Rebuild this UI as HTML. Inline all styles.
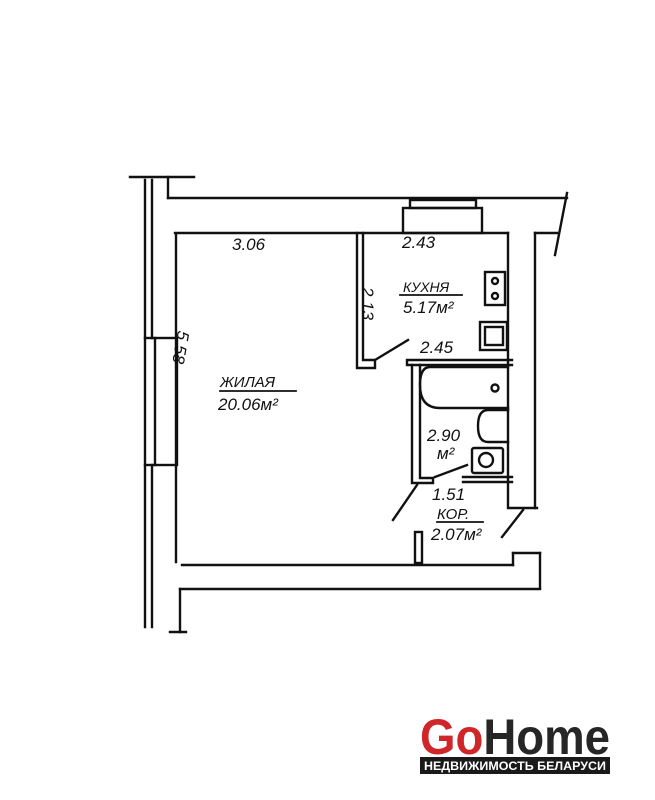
<!DOCTYPE html>
<html><head><meta charset="utf-8"><style>
html,body{margin:0;padding:0;background:#fff;}
svg{display:block;}
text{font-family:"Liberation Sans",sans-serif;font-style:italic;fill:#111;}
text.logo{font-style:normal;}
</style></head><body>
<svg width="655" height="800" viewBox="0 0 655 800" xmlns="http://www.w3.org/2000/svg">
<rect width="655" height="800" fill="#fff"/>
<g stroke="#111" stroke-width="2.4" fill="none" stroke-linecap="square">
<line x1="145" y1="180" x2="145" y2="627"/>
<line x1="152" y1="180" x2="152" y2="338"/>
<line x1="152" y1="465" x2="152" y2="627"/>
<line x1="130" y1="177" x2="194" y2="177"/>
<line x1="168" y1="177" x2="168" y2="198"/>
<line x1="168" y1="198" x2="567" y2="198"/>
<rect x="155" y="338" width="22" height="127"/>
<line x1="145" y1="338" x2="155" y2="338"/>
<line x1="145" y1="465" x2="155" y2="465"/>
<line x1="176" y1="235" x2="176" y2="562"/>
<line x1="175" y1="233" x2="508" y2="233"/>
<rect x="403" y="208" width="79" height="25"/>
<rect x="410" y="200" width="66" height="8"/>
<line x1="567" y1="193" x2="555" y2="255"/>
<line x1="508" y1="233" x2="508" y2="508"/>
<line x1="535" y1="233" x2="535" y2="508"/>
<line x1="535" y1="233" x2="557" y2="233"/>
<line x1="510" y1="508" x2="537" y2="508"/>
<line x1="523" y1="510" x2="502" y2="537"/>
<line x1="182" y1="565" x2="513" y2="565"/>
<line x1="513" y1="565" x2="513" y2="553"/>
<line x1="513" y1="553" x2="540" y2="553"/>
<line x1="540" y1="553" x2="540" y2="588"/>
<line x1="180" y1="589" x2="540" y2="589"/>
<line x1="180" y1="589" x2="180" y2="632"/>
<line x1="170" y1="632" x2="186" y2="632"/>
<path d="M357 233 V368 H375 V360 H363 V233"/>
<line x1="375" y1="360" x2="408" y2="340"/>
<path d="M407 360 H512 M407 365 H512 M407 360 V365"/>
<path d="M412 365 V483 H433 V478 H420 V365"/>
<line x1="435" y1="477" x2="467" y2="465"/>
<path d="M463 477 H512 M463 482 H512"/>
<path d="M508 367 H430 Q420 367 420 385 Q420 408 440 408 H508"/>
<circle cx="495" cy="388" r="3.5"/>
<path d="M508 410 H488 Q478 410 478 426 Q478 442 488 442 H508"/>
<rect x="472" y="448" width="31" height="25" rx="2"/>
<circle cx="486" cy="460" r="7"/>
<line x1="417" y1="485" x2="393" y2="520"/>
<rect x="415" y="532" width="7" height="31"/>
<rect x="485" y="272" width="20" height="33"/>
<circle cx="495" cy="281" r="3"/>
<circle cx="495" cy="296" r="3"/>
<rect x="480" y="322" width="27" height="28"/>
<rect x="485" y="327" width="18" height="18"/>
<line x1="400" y1="295" x2="462" y2="295" stroke-width="1.8"/>
<line x1="220" y1="391" x2="296" y2="391" stroke-width="1.8"/>
<line x1="437" y1="522" x2="483" y2="522" stroke-width="1.8"/>
</g>
<g font-size="17">
<text x="232" y="250">3.06</text>
<text x="402" y="248">2.43</text>
<text x="403" y="292" font-size="14">КУХНЯ</text>
<text x="403" y="313">5.17м²</text>
<text x="420" y="353">2.45</text>
<text x="220" y="387" font-size="15">ЖИЛАЯ</text>
<text x="218" y="410">20.06м²</text>
<text x="427" y="441">2.90</text>
<text x="437" y="459">м²</text>
<text x="432" y="500">1.51</text>
<text x="437" y="519" font-size="15">КОР.</text>
<text x="431" y="540">2.07м²</text>
<text transform="translate(362,287) rotate(90)">2.13</text>
<text transform="translate(178,330) rotate(100)">5.58</text>
</g>
<text class="logo" x="420" y="754" font-size="50" font-weight="bold" textLength="190" lengthAdjust="spacingAndGlyphs"><tspan fill="#d0262a" style="fill:#d0262a">Go</tspan><tspan style="fill:#262626">Home</tspan></text>
<rect x="420" y="757" width="190" height="17" fill="#1a1a1a"/>
<text class="logo" x="424" y="770" font-size="11.5" font-weight="bold" textLength="182" lengthAdjust="spacingAndGlyphs" style="fill:#fff">НЕДВИЖИМОСТЬ БЕЛАРУСИ</text>
</svg>
</body></html>
